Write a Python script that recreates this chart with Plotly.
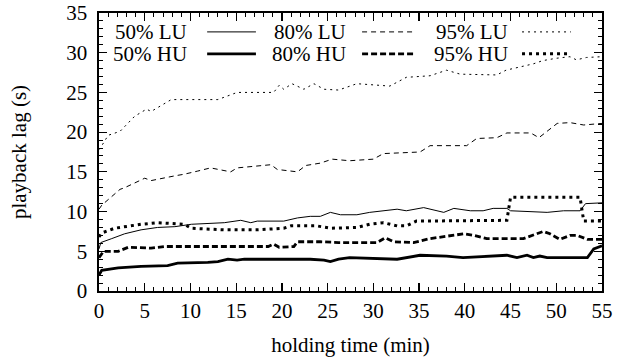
import plotly.graph_objects as go

# ---- data (holding time in min, playback lag in s) ----
lu50_x = [0, 0.2, 1.4, 2.8, 4.6, 6.4, 8.3, 10.1, 13.7, 14.8, 15.5, 16.6, 17.3, 20.2, 21.7, 23.1, 24.2, 25.3, 26.4, 28.2,
          29.6, 32.6, 33.6, 35.5, 37.7, 38.8, 40.6, 42.0, 43.1, 44.6, 45.0, 49.0, 50.8, 52.6, 53.2, 55]
lu50_y = [5.3, 6.1, 6.6, 7.2, 7.7, 8.0, 8.1, 8.4, 8.6, 8.8, 8.9, 8.6, 8.8, 8.8, 9.2, 9.4, 9.4, 9.9, 9.6, 9.6,
          9.9, 10.3, 10.1, 10.5, 9.9, 10.4, 10.1, 10.1, 10.4, 10.4, 10.1, 9.9, 10.1, 10.1, 11.0, 11.1]

lu80_x = [0, 0.3, 2.3, 2.8, 5.0, 5.7, 8.3, 9.3, 10.8, 12.2, 14.4, 15.1, 18.8, 19.5, 21.7, 22.6, 24.2, 25.5, 27.4,
          30.0, 31.1, 35.1, 36.2, 40.2, 41.3, 43.5, 44.6, 47.2, 48.1, 50.1, 51.5, 53.0, 55]
lu80_y = [10.3, 10.8, 12.8, 13.0, 14.2, 13.9, 14.5, 14.7, 15.1, 15.5, 15.0, 15.5, 15.9, 15.3, 15.0, 15.8, 16.1, 16.6, 16.4,
          16.6, 17.3, 17.5, 18.3, 18.3, 19.2, 19.3, 19.9, 19.9, 19.3, 21.1, 21.2, 20.9, 21.1]

lu95_x = [0, 0.2, 1.0, 2.3, 3.9, 5.2, 5.7, 7.9, 13.0, 14.1, 15.1, 19.1, 19.7, 20.2, 21.1, 22.4, 23.5, 24.6, 26.2,
          28.2, 31.8, 33.6, 36.2, 38.0, 39.5, 43.5, 44.5, 46.0, 47.5, 48.5, 50.0, 51.5, 52.2, 53.3, 55]
lu95_y = [17.8, 18.1, 19.6, 20.1, 22.0, 22.9, 22.6, 24.1, 24.1, 24.6, 25.0, 25.0, 25.9, 25.4, 26.1, 25.4, 26.1, 25.4, 25.3,
          26.1, 25.8, 26.9, 27.1, 27.8, 27.3, 27.2, 27.8, 28.2, 28.6, 29.0, 29.3, 29.5, 29.1, 29.4, 29.5]

hu50_x = [0, 0.3, 2.1, 4.6, 7.5, 8.6, 11.9, 13.0, 14.1, 15.1, 15.9, 23.1, 24.6, 25.3, 26.2, 27.4, 32.6, 35.1, 38.0,
          39.8, 44.6, 45.7, 46.8, 47.5, 48.2, 49.0, 53.4, 54.1, 55]
hu50_y = [2.0, 2.6, 2.9, 3.1, 3.2, 3.5, 3.6, 3.7, 4.0, 3.9, 4.0, 4.0, 3.9, 3.7, 4.0, 4.2, 4.0, 4.5, 4.4,
          4.2, 4.5, 4.2, 4.5, 4.2, 4.4, 4.2, 4.2, 5.3, 5.7]

hu80_x = [0, 0.5, 2.1, 3.2, 5.7, 7.2, 18.5, 19.1, 19.7, 21.3, 21.7, 24.2, 26.2, 30.4, 31.3, 32.2, 34.4, 36.2, 39.9,
          41.0, 42.4, 46.4, 48.6, 49.3, 50.4, 51.5, 52.3, 53.4, 55]
hu80_y = [4.2, 5.0, 5.0, 5.5, 5.4, 5.6, 5.6, 5.9, 5.5, 5.6, 6.2, 6.2, 6.1, 6.1, 6.7, 6.2, 6.1, 6.6, 7.2,
          7.0, 6.6, 6.6, 7.5, 7.2, 6.5, 7.0, 7.0, 6.5, 6.5]

hu95_x = [0, 0.3, 1.7, 4.6, 6.4, 9.3, 10.1, 13.7, 17.3, 20.2, 21.0, 23.8, 25.3, 28.2, 29.6, 31.1, 32.6, 33.6, 34.7,
          44.6, 45.0, 52.6, 53.0, 55]
hu95_y = [6.8, 7.3, 7.9, 8.4, 8.6, 8.4, 7.9, 7.7, 7.7, 7.9, 8.2, 8.2, 7.9, 8.0, 8.4, 8.6, 8.2, 8.2, 8.8,
          8.9, 11.8, 11.8, 8.8, 8.8]

series_names = ["50% LU", "80% LU", "95% LU", "50% HU", "80% HU", "95% HU"]
x_ticks = list(range(0, 56, 5))
y_ticks = list(range(0, 36, 5))

# ---- styles ----
styles = [
    dict(width=1, dash="solid"),
    dict(width=1, dash="5px,4px"),
    dict(width=1, dash="2px,4px"),
    dict(width=2.8, dash="solid"),
    dict(width=2.8, dash="6px,3px"),
    dict(width=3, dash="3px,4px"),
]
data = [(lu50_x, lu50_y), (lu80_x, lu80_y), (lu95_x, lu95_y),
        (hu50_x, hu50_y), (hu80_x, hu80_y), (hu95_x, hu95_y)]

FONT = "Times New Roman, Liberation Serif, DejaVu Serif, serif"
FS = 21

fig = go.Figure()
for name, (xs, ys), st in zip(series_names, data, styles):
    fig.add_trace(go.Scatter(x=xs, y=ys, mode="lines", name=name,
                             line=dict(color="black", width=st["width"], dash=st["dash"]),
                             showlegend=False))

# custom gnuplot-style legend (text, then line sample)
text_right = [0.179, 0.495, 0.817]
sample_x = [(0.215, 0.312), (0.523, 0.626), (0.841, 0.938)]
row_y = [0.932, 0.853]
for i, (name, st) in enumerate(zip(series_names, styles)):
    r, c = divmod(i, 3)
    fig.add_annotation(x=text_right[c], y=row_y[r], xref="paper", yref="paper",
                       text=name, showarrow=False, xanchor="right", yanchor="middle",
                       font=dict(family=FONT, size=FS, color="black"))
    fig.add_shape(type="line", xref="paper", yref="paper",
                  x0=sample_x[c][0], x1=sample_x[c][1], y0=row_y[r], y1=row_y[r],
                  line=dict(color="black", width=st["width"], dash=st["dash"]))

axis_common = dict(showline=True, linecolor="black", linewidth=1.6, mirror="allticks",
                   ticks="inside", ticklen=8, tickwidth=1.2, tickcolor="black",
                   showgrid=False, zeroline=False, ticklabeloverflow="allow",
                   minor=dict(ticks="inside", ticklen=4, tickwidth=1, tickcolor="black", dtick=1, showgrid=False),
                   tickfont=dict(family=FONT, size=FS, color="black"))

fig.update_xaxes(range=[0, 55], tickvals=x_ticks, ticktext=[str(v) for v in x_ticks],
                 title=dict(text="holding time (min)", font=dict(family=FONT, size=FS, color="black"), standoff=15),
                 **axis_common)
fig.update_yaxes(range=[0, 35], tickvals=y_ticks, ticktext=[str(v) for v in y_ticks],
                 ticklabelstandoff=6,
                 title=dict(text="playback lag (s)", font=dict(family=FONT, size=FS, color="black"), standoff=34),
                 **axis_common)

fig.update_layout(width=624, height=362, margin=dict(l=99, r=22, t=13, b=71, autoexpand=False),
                  paper_bgcolor="white", plot_bgcolor="white",
                  font=dict(family=FONT, size=FS, color="black"))

# remove the browser's default 8px body margin so the figure fills the page
fig.write_html("out.html", config={"displayModeBar": False, "staticPlot": True},
               post_script="document.body.style.margin='0';document.body.style.overflow='hidden';")
